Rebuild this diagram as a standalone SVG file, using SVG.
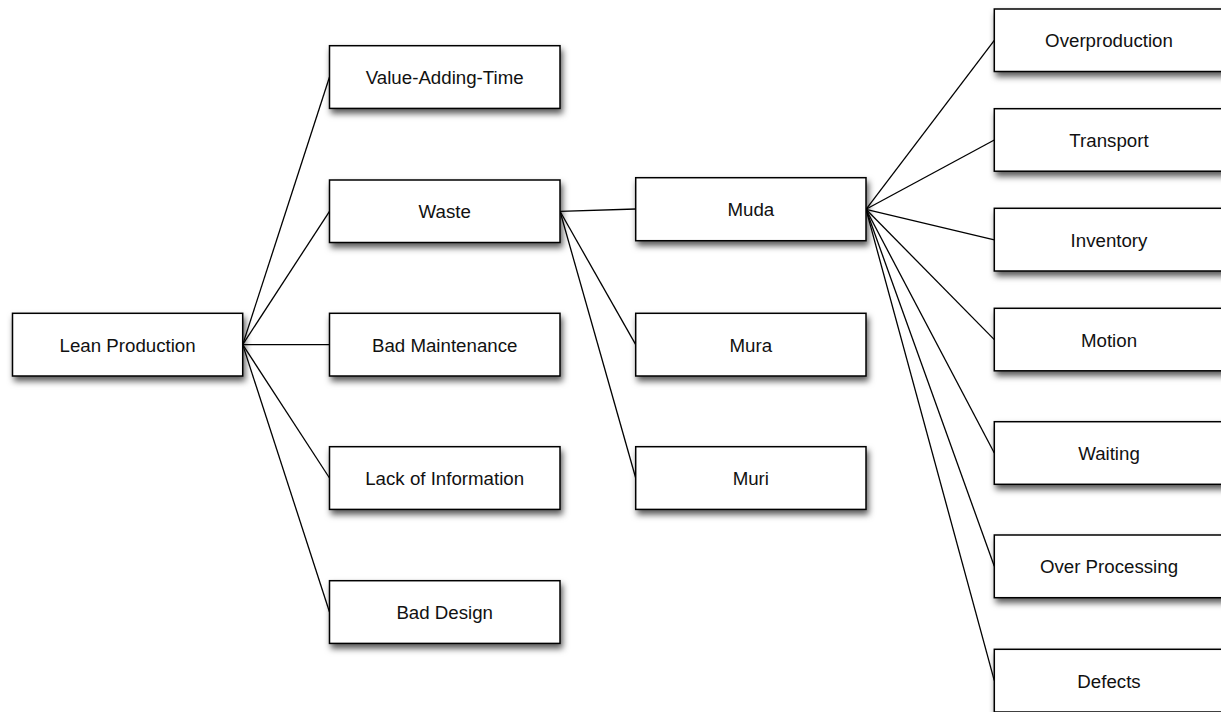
<svg xmlns="http://www.w3.org/2000/svg" width="1221" height="712" viewBox="0 0 1221 712">
<defs>
<filter id="sh" x="-10%" y="-20%" width="130%" height="170%">
<feDropShadow dx="2" dy="4.5" stdDeviation="3" flood-color="#000" flood-opacity="0.65"/>
</filter>
</defs>
<style>
.box{fill:#fff;stroke:#000;stroke-width:1.5;filter:url(#sh)}
.lbl{font-family:"Liberation Sans",Arial,sans-serif;font-size:18.7px;fill:#111;text-anchor:middle}
.con line{stroke:#000;stroke-width:1.3}
</style>
<rect width="1221" height="712" fill="#fff"/>
<g id="connectors" class="con">
<line x1="242.7" y1="344.6" x2="329.5" y2="77"/>
<line x1="242.7" y1="344.6" x2="329.5" y2="211.3"/>
<line x1="242.7" y1="344.6" x2="329.5" y2="344.6"/>
<line x1="242.7" y1="344.6" x2="329.5" y2="478"/>
<line x1="242.7" y1="344.6" x2="329.5" y2="612"/>
<line x1="560" y1="211.3" x2="635.7" y2="209"/>
<line x1="560" y1="211.3" x2="635.7" y2="344.6"/>
<line x1="560" y1="211.3" x2="635.7" y2="478"/>
<line x1="866" y1="209.3" x2="994.3" y2="40.3"/>
<line x1="866" y1="209.3" x2="994.3" y2="140"/>
<line x1="866" y1="209.3" x2="994.3" y2="239.8"/>
<line x1="866" y1="209.3" x2="994.3" y2="339.6"/>
<line x1="866" y1="209.3" x2="994.3" y2="453"/>
<line x1="866" y1="209.3" x2="994.3" y2="566.3"/>
<line x1="866" y1="209.3" x2="994.3" y2="680.6"/>
</g>
<g id="lean-production"><rect class="box" x="12.5" y="313.3" width="230.2" height="62.7"/><text class="lbl" x="127.6" y="351.6">Lean Production</text></g>
<g id="value-adding-time"><rect class="box" x="329.5" y="45.7" width="230.5" height="62.7"/><text class="lbl" x="444.7" y="84">Value-Adding-Time</text></g>
<g id="waste"><rect class="box" x="329.5" y="180" width="230.5" height="62.5"/><text class="lbl" x="444.7" y="218.2">Waste</text></g>
<g id="bad-maintenance"><rect class="box" x="329.5" y="313.3" width="230.5" height="62.7"/><text class="lbl" x="444.7" y="351.6">Bad Maintenance</text></g>
<g id="lack-of-information"><rect class="box" x="329.5" y="446.7" width="230.5" height="62.7"/><text class="lbl" x="444.7" y="485">Lack of Information</text></g>
<g id="bad-design"><rect class="box" x="329.5" y="580.7" width="230.5" height="62.7"/><text class="lbl" x="444.7" y="619">Bad Design</text></g>
<g id="muda"><rect class="box" x="635.7" y="177.7" width="230.3" height="63"/><text class="lbl" x="750.8" y="216.3">Muda</text></g>
<g id="mura"><rect class="box" x="635.7" y="313.3" width="230.3" height="62.7"/><text class="lbl" x="750.8" y="351.6">Mura</text></g>
<g id="muri"><rect class="box" x="635.7" y="446.7" width="230.3" height="62.7"/><text class="lbl" x="750.8" y="485">Muri</text></g>
<g id="overproduction"><rect class="box" x="994.3" y="9" width="230" height="62.5"/><text class="lbl" x="1109" y="47.3">Overproduction</text></g>
<g id="transport"><rect class="box" x="994.3" y="108.7" width="230" height="62.5"/><text class="lbl" x="1109" y="147">Transport</text></g>
<g id="inventory"><rect class="box" x="994.3" y="208.3" width="230" height="62.7"/><text class="lbl" x="1109" y="246.6">Inventory</text></g>
<g id="motion"><rect class="box" x="994.3" y="308.3" width="230" height="62.5"/><text class="lbl" x="1109" y="346.6">Motion</text></g>
<g id="waiting"><rect class="box" x="994.3" y="421.7" width="230" height="62.6"/><text class="lbl" x="1109" y="460">Waiting</text></g>
<g id="over-processing"><rect class="box" x="994.3" y="535" width="230" height="62.7"/><text class="lbl" x="1109" y="573.3">Over Processing</text></g>
<g id="defects"><rect class="box" x="994.3" y="649.3" width="230" height="62.7"/><text class="lbl" x="1109" y="687.6">Defects</text></g>
</svg>
